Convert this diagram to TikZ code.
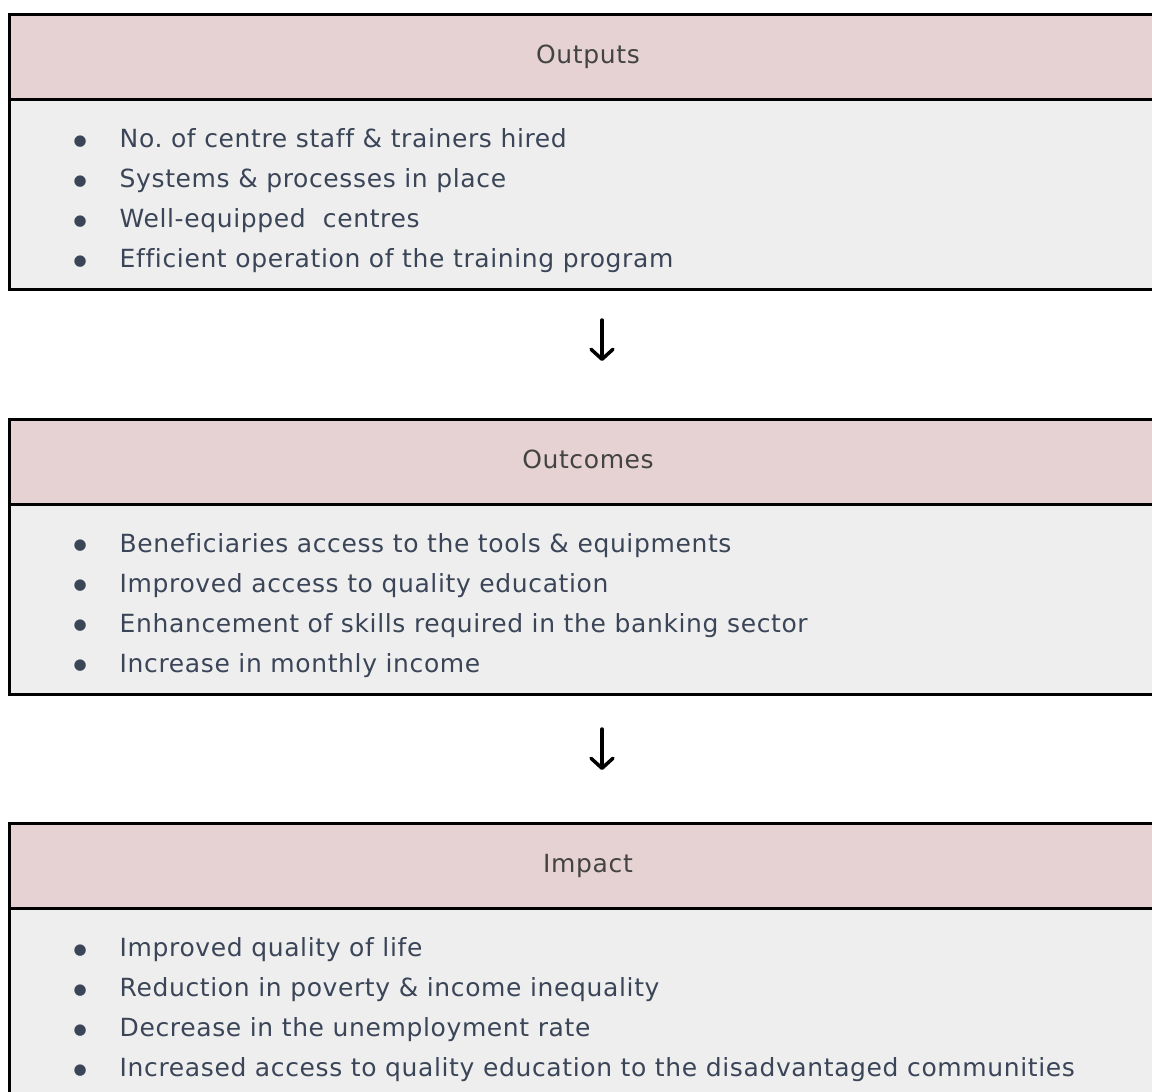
\documentclass[tikz,border=0pt]{standalone}
\usepackage{fontspec}
\setmainfont{DejaVu Sans}[LetterSpace=2.5, Ligatures=NoCommon]
\usepackage{tikz}
\usetikzlibrary{positioning,arrows.meta}
\frenchspacing

\definecolor{headpink}{RGB}{230,210,210}
\definecolor{bodygray}{RGB}{238,238,238}
\definecolor{headtext}{RGB}{67,67,67}
\definecolor{itemtext}{RGB}{59,69,88}

\newcommand{\itembullet}{\makebox[46pt][l]{\raisebox{2.5pt}{\fontsize{15}{15}\selectfont ●}}}

\tikzstyle{head} = [draw=black, line width=3pt, fill=headpink, outer sep=0pt, minimum width=1157pt, minimum height=85pt, inner sep=0pt, text=headtext, font=\fontsize{25}{40}\selectfont, text height=19pt, text depth=6pt]
\tikzstyle{body} = [draw=black, line width=3pt, fill=bodygray, outer sep=0pt, minimum width=1157pt, minimum height=190pt, inner sep=0pt]
\tikzstyle{items} = [inner sep=0pt, align=left, text=itemtext, font=\fontsize{25}{40}\selectfont]
\tikzstyle{flow} = [line width=3.5pt, line cap=round, -{Straight Barb[length=10pt, width=22pt, line cap=round, line join=round]}]
\tikzset{x=1pt, y=1pt}

\begin{document}
\begin{tikzpicture}
\fill[white] (0,0) rectangle (1152,-1092);
\useasboundingbox (0,0) rectangle (1152,-1092);

\node[head, anchor=north west] (head1) at (9.5,-14.5) {Outputs};
\node[body, below=0pt of head1] (body1) {};
\node[items, below right=29pt and 64pt of body1.north west] (list1) {%
\itembullet No. of centre staff \& trainers hired\\
\itembullet Systems \& processes in place\\
\itembullet Well-equipped\ \ centres\\
\itembullet Efficient operation of the training program};

\node[head, below=129.5pt of body1] (head2) {Outcomes};
\node[body, below=0pt of head2] (body2) {};
\node[items, below right=29pt and 64pt of body2.north west] (list2) {%
\itembullet Beneficiaries access to the tools \& equipments\\
\itembullet Improved access to quality education\\
\itembullet Enhancement of skills required in the banking sector\\
\itembullet Increase in monthly income};

\node[head, below=129.5pt of body2] (head3) {Impact};
\node[body, below=0pt of head3] (body3) {};
\node[items, below right=29pt and 64pt of body3.north west] (list3) {%
\itembullet Improved quality of life\\
\itembullet Reduction in poverty \& income inequality\\
\itembullet Decrease in the unemployment rate\\
\itembullet Increased access to quality education to the disadvantaged communities};

% arrows between the boxes
\coordinate[below=30.5pt of body1.south, xshift=14pt] (d1a);
\coordinate[below=41pt of d1a] (d1b);
\coordinate[below=35pt of body2.south, xshift=14pt] (d2a);
\coordinate[below=41pt of d2a] (d2b);
\draw[flow] (d1a) -- (d1b);
\draw[flow] (d2a) -- (d2b);
\end{tikzpicture}
\end{document}
